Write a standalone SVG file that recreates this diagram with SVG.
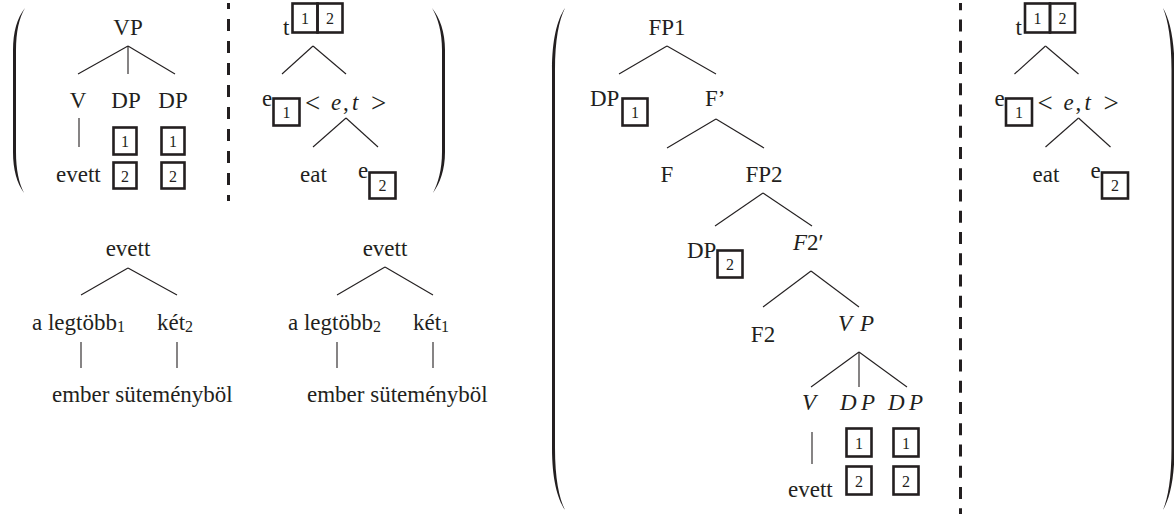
<svg xmlns="http://www.w3.org/2000/svg" width="1174" height="514" viewBox="0 0 1174 514" font-family="'Liberation Serif', 'DejaVu Serif', serif">
  <style>
    text { font-family: 'Liberation Serif', 'DejaVu Serif', serif; font-size: 23px; fill: #231f20; }
    .c { text-anchor: middle; }
    .it { font-style: italic; }
    .rel { font-size: 27px; }
    .sub { font-size: 16px; }
    .dg { font-size: 16px; text-anchor: middle; }
    .bx { fill: none; stroke: #231f20; stroke-width: 2.6; }
    .br { fill: #231f20; }
    .edges line { stroke: #231f20; stroke-width: 1.1; }
    .dash { stroke: #231f20; stroke-width: 3; fill: none; }
  </style>
  <defs>
    <!-- semantic-type subtree: t over e and <e,t>, the latter over eat and e -->
    <g id="typetree">
      <g id="tt-root">
        <text x="283" y="35">t</text>
        <rect class="bx" x="292.5" y="3.5" width="25" height="29"/>
        <rect class="bx" x="317.5" y="3.5" width="25" height="29"/>
        <text class="dg" x="305" y="24">1</text>
        <text class="dg" x="330" y="24">2</text>
      </g>
      <g id="tt-e1">
        <text x="262" y="106">e</text>
        <rect class="bx" x="273.5" y="98.5" width="26" height="27"/>
        <text class="dg" x="286.5" y="118">1</text>
      </g>
      <g id="tt-et">
        <text class="rel" x="305" y="112">&lt;</text>
        <text class="it" x="331" y="110">e</text>
        <text x="343" y="110">,</text>
        <text class="it" x="352" y="110">t</text>
        <text class="rel" x="371" y="112">&gt;</text>
      </g>
      <g id="tt-eat"><text x="300" y="182">eat</text></g>
      <g id="tt-e2">
        <text x="358" y="178">e</text>
        <rect class="bx" x="369.5" y="172.5" width="26" height="26"/>
        <text class="dg" x="382.5" y="191">2</text>
      </g>
      <g class="edges">
        <line x1="313" y1="46" x2="282" y2="74"/>
        <line x1="313" y1="46" x2="346" y2="74"/>
        <line x1="346" y1="118" x2="313" y2="147"/>
        <line x1="346" y1="118" x2="378" y2="147"/>
      </g>
    </g>
  </defs>

  <!-- brackets -->
  <path class="br" d="M25,8 C17,18 13,32 13,50 L13,152 C13,170 17,183 24,193 C19,183 16,170 16,152 L16,50 C16,32 19,18 25,8 Z"/>
  <path class="br" d="M432,8 C440,18 445,32 445,50 L445,152 C445,170 440,183 433,193 C438,183 442,170 442,152 L442,50 C442,32 438,18 432,8 Z"/>
  <path class="br" d="M565,8 C557,20 552,40 552,70 L552,448 C552,478 557,498 565,510 C559,498 555,478 555,448 L555,70 C555,40 559,20 565,8 Z"/>
  <path class="br" d="M1163,8 C1170,20 1174.5,40 1174.5,70 L1174.5,448 C1174.5,478 1170,498 1163,510 C1168,498 1171.5,478 1171.5,448 L1171.5,70 C1171.5,40 1168,20 1163,8 Z"/>

  <!-- dashed separators -->
  <line class="dash" x1="228.5" y1="3" x2="228.5" y2="201" stroke-dasharray="12 10" stroke-dashoffset="6"/>
  <line class="dash" x1="960.5" y1="3" x2="960.5" y2="514" stroke-dasharray="12 9.25" stroke-dashoffset="4.75"/>

  <!-- syntactic VP tree -->
  <g id="vp-root"><text class="c" x="128" y="35">VP</text></g>
  <g id="vp-v"><text class="c" x="78" y="108">V</text></g>
  <g id="vp-dp1">
    <text class="c" x="126" y="108">DP</text>
    <rect class="bx" x="113.5" y="127.5" width="23" height="27"/>
    <text class="dg" x="125" y="147">1</text>
    <rect class="bx" x="113.5" y="162.5" width="23" height="26"/>
    <text class="dg" x="125" y="182">2</text>
  </g>
  <g id="vp-dp2">
    <text class="c" x="173" y="108">DP</text>
    <rect class="bx" x="161.5" y="127.5" width="23" height="27"/>
    <text class="dg" x="173" y="147">1</text>
    <rect class="bx" x="161.5" y="162.5" width="23" height="26"/>
    <text class="dg" x="173" y="182">2</text>
  </g>
  <g id="vp-evett"><text x="56" y="182">evett</text></g>

  <!-- left semantic tree -->
  <g id="type-left"><use href="#typetree"/></g>

  <!-- surface tree, scope 1 -->
  <g id="s1-root"><text class="c" x="128" y="256">evett</text></g>
  <g id="s1-a"><text x="32" y="330">a legtöbb<tspan class="sub" dy="2">1</tspan></text></g>
  <g id="s1-b"><text x="157" y="330">két<tspan class="sub" dy="2">2</tspan></text></g>
  <g id="s1-leaf"><text x="52" y="402">ember süteményböl</text></g>

  <!-- surface tree, scope 2 -->
  <g id="s2-root"><text class="c" x="385" y="256">evett</text></g>
  <g id="s2-a"><text x="288" y="330">a legtöbb<tspan class="sub" dy="2">2</tspan></text></g>
  <g id="s2-b"><text x="413" y="330">két<tspan class="sub" dy="2">1</tspan></text></g>
  <g id="s2-leaf"><text x="307" y="402">ember süteményböl</text></g>

  <!-- functional projection tree -->
  <g id="fp1"><text class="c" x="667" y="35">FP1</text></g>
  <g id="fp-dp1">
    <text x="590" y="106">DP</text>
    <rect class="bx" x="622.5" y="98.5" width="25" height="27"/>
    <text class="dg" x="635" y="118">1</text>
  </g>
  <g id="fbar"><text x="705" y="106">F’</text></g>
  <g id="f"><text class="c" x="667" y="182">F</text></g>
  <g id="fp2"><text class="c" x="764" y="182">FP2</text></g>
  <g id="fp-dp2">
    <text x="687" y="258">DP</text>
    <rect class="bx" x="717.5" y="250.5" width="25" height="27"/>
    <text class="dg" x="730" y="270">2</text>
  </g>
  <g id="f2bar"><text x="793" y="250"><tspan class="it">F</tspan>2′</text></g>
  <g id="f2"><text class="c" x="763" y="342">F2</text></g>
  <g id="fvp"><text class="it" x="838" y="331">V</text><text class="it" x="860" y="331">P</text></g>
  <g id="fv"><text class="it" x="802" y="410">V</text></g>
  <g id="fdp1">
    <text class="it" x="840" y="410">D</text><text class="it" x="861" y="410">P</text>
    <rect class="bx" x="846.5" y="428.5" width="25" height="28"/>
    <text class="dg" x="859" y="449">1</text>
    <rect class="bx" x="846.5" y="466.5" width="25" height="28"/>
    <text class="dg" x="859" y="487">2</text>
  </g>
  <g id="fdp2">
    <text class="it" x="888" y="410">D</text><text class="it" x="909" y="410">P</text>
    <rect class="bx" x="893.5" y="428.5" width="25" height="28"/>
    <text class="dg" x="906" y="449">1</text>
    <rect class="bx" x="893.5" y="466.5" width="25" height="28"/>
    <text class="dg" x="906" y="487">2</text>
  </g>
  <g id="fevett"><text x="788" y="497">evett</text></g>

  <!-- right semantic tree -->
  <g id="type-right" transform="translate(732.5,0)"><use href="#typetree"/></g>

  <!-- tree branches -->
  <g id="connectors" class="edges">
    <line x1="128" y1="46" x2="78" y2="74"/>
    <line x1="128" y1="46" x2="128" y2="74"/>
    <line x1="128" y1="46" x2="175" y2="74"/>
    <line x1="79" y1="118" x2="79" y2="147"/>

    <line x1="128" y1="268" x2="81" y2="295"/>
    <line x1="128" y1="268" x2="177" y2="295"/>
    <line x1="81" y1="342" x2="81" y2="368"/>
    <line x1="177" y1="342" x2="177" y2="368"/>

    <line x1="385" y1="267" x2="337" y2="295"/>
    <line x1="385" y1="267" x2="433" y2="295"/>
    <line x1="337" y1="342" x2="337" y2="368"/>
    <line x1="433" y1="342" x2="433" y2="368"/>

    <line x1="667" y1="46" x2="619" y2="74"/>
    <line x1="667" y1="46" x2="716" y2="74"/>
    <line x1="716" y1="119" x2="667" y2="148"/>
    <line x1="716" y1="119" x2="764" y2="148"/>
    <line x1="763" y1="193" x2="715" y2="226"/>
    <line x1="763" y1="193" x2="812" y2="226"/>
    <line x1="811" y1="271" x2="763" y2="307"/>
    <line x1="811" y1="271" x2="859" y2="307"/>
    <line x1="859" y1="352" x2="811" y2="387"/>
    <line x1="859" y1="352" x2="859" y2="387"/>
    <line x1="859" y1="352" x2="907" y2="387"/>
    <line x1="812" y1="432" x2="812" y2="464"/>
  </g>
</svg>
